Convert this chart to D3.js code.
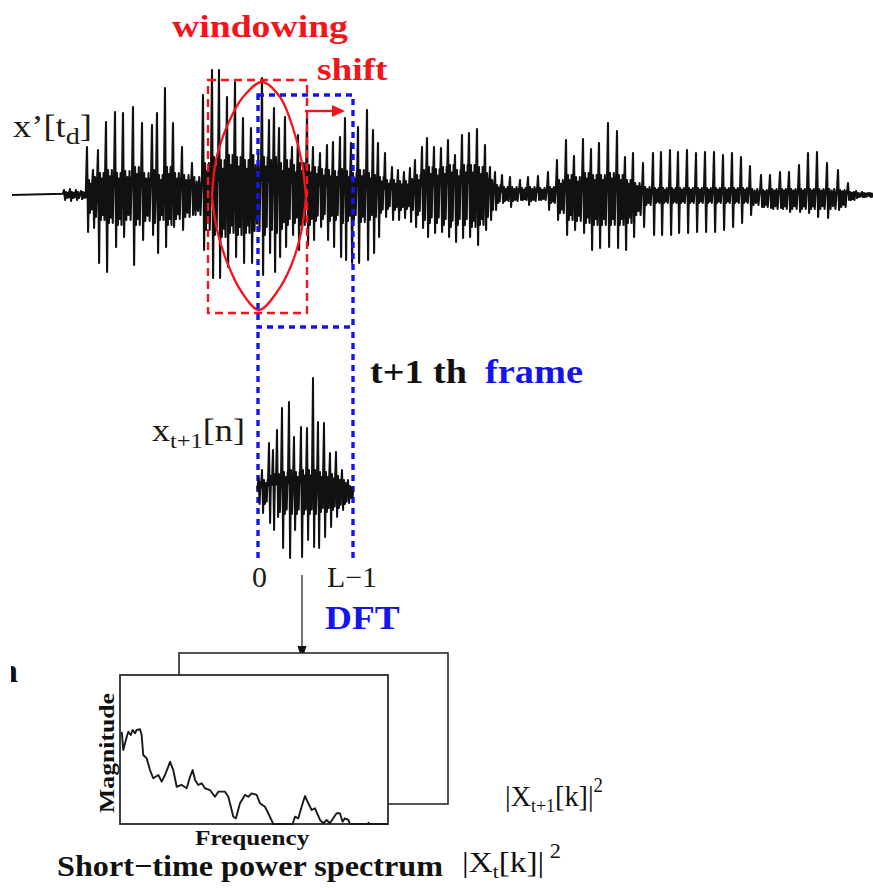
<!DOCTYPE html>
<html><head><meta charset="utf-8">
<script src="https://cdn.jsdelivr.net/npm/d3@7"></script>
<style>html,body{margin:0;padding:0;background:#fff;} svg{display:block;}</style>
</head><body><div id="chart"></div>
<script>
// ---------- DATA ----------
// Main speech waveform x'[t_d]: one entry per pitch period
// (time, main positive peak, main negative trough, secondary peak, secondary trough)
const waveT  = [52,58,64,69,75,81,86,94,103,111,121,130,140,145,153,161,170,180,191,200,207,215,223,231,239,250,257,262,267,273,280,286,295,301,308,315,321,328,333,339,346,355,361,366,373,380,386,392,398,403,410,415,422,429,436,443,450,457,465,473,478,483,490,498,508,516,526,536,545,554,562,571,579,587,596,605,613,621,631,641,649,658,666,675,684,693,702,711,720,729,738,749,758,768,777,787,796,805,815,826,836,844,850,856];
const waveHi = [5,6,5,4,48,25,45,73,83,82,88,72,70,82,107,72,48,32,100,125,125,98,113,77,67,117,75,87,67,78,48,60,78,48,42,50,53,58,77,52,68,85,65,52,42,28,25,23,27,35,48,57,48,47,55,40,60,62,66,50,28,23,20,18,15,18,19,23,35,55,39,56,46,52,72,64,38,42,32,42,43,45,43,45,42,43,43,40,42,38,29,20,20,23,23,30,42,43,32,25,12,4,3,2];
const waveLo = [-5,-6,-5,-4,-37,-33,-68,-77,-52,-42,-70,-45,-40,-58,-52,-32,-35,-20,-55,-83,-83,-72,-62,-68,-68,-80,-58,-77,-62,-52,-40,-55,-50,-45,-32,-45,-52,-62,-65,-68,-68,-65,-58,-42,-22,-25,-25,-23,-27,-32,-33,-42,-38,-37,-42,-47,-43,-42,-50,-35,-25,-15,-8,-12,-5,-10,-5,-15,-25,-40,-35,-38,-55,-53,-52,-53,-55,-42,-32,-40,-40,-40,-38,-38,-37,-37,-37,-35,-32,-28,-20,-12,-13,-13,-17,-17,-18,-22,-23,-15,-5,-3,-2,-1];
const waveHi2 = [3,3,3,3,15,18,22,25,22,24,28,22,25,20,28,22,20,18,32,38,35,40,38,35,40,38,35,38,32,35,30,32,30,28,26,25,24,26,24,22,25,22,20,18,15,15,14,14,16,20,25,28,26,28,30,25,30,30,28,22,15,10,8,8,7,8,7,8,15,20,18,22,20,20,22,20,15,12,8,7,7,7,7,7,7,7,7,7,7,7,6,5,6,6,6,6,6,6,6,5,3,2,2,2];
const waveLo2 = [-3,-3,-3,-3,-18,-22,-25,-28,-30,-25,-30,-26,-28,-25,-30,-24,-22,-20,-35,-40,-42,-38,-40,-38,-36,-40,-35,-38,-34,-30,-28,-30,-30,-26,-24,-26,-25,-28,-26,-25,-27,-25,-22,-18,-14,-15,-15,-14,-15,-20,-25,-28,-28,-30,-32,-30,-30,-32,-30,-22,-15,-8,-6,-6,-5,-6,-5,-8,-18,-25,-26,-28,-30,-30,-30,-30,-28,-20,-10,-8,-8,-8,-8,-8,-8,-8,-8,-8,-8,-8,-10,-12,-14,-14,-14,-14,-14,-14,-14,-12,-5,-2,-2,-2];
// analysis windows (start / end time): t-th frame (red), t+1-th frame (blue)
const winStart = [196, 246];
const winEnd   = [295, 341];
// extracted frame x_{t+1}[n], n = 0 .. L-1
const frameN   = [0.5,4,11,15,19,24,31,36,43,49,55,60,66,72,78,84,90];
const frameHi  = [14,22,49,42,62,84,90,55,65,64,114,70,69,39,40,22,12];
const frameLo  = [-12,-21,-31,-38,-25,-56,-66,-38,-65,-48,-55,-56,-45,-35,-25,-18,-11];
const frameHi2 = [10,12,16,18,18,20,22,20,22,22,22,20,20,18,16,12,6];
const frameLo2 = [-10,-12,-16,-18,-20,-22,-22,-22,-22,-22,-22,-20,-20,-18,-16,-12,-6];
// short-time power spectrum |X_t[k]|^2
const specFreq = [0.7,2.2,5.5,7,9.3,11.2,13.4,15,18.2,19.8,21.3,24.6,27.8,30.9,35.8,39,42.2,45.3,47,50.1,53.4,58.2,63,66.2,68.7,71,74.1,77.4,80.5,85.3,90.1,93.3,99.7,102.9,107.7,110.2,114.1,118.9,122.1,125.3,130.1,133.3,138,141.2,146,164.6,166.8,170,173.2,176.4,179.6,182.8,186,190.8,194,197.1,200.3,203.5,206.7,209.9,212.5,214.7,217.9,219.6,236.9,237.3,237.8,256];
const specMag  = [61.9,49.7,58.6,61.9,59.7,63.1,60.9,63.1,63.6,59.7,46.3,44.1,36.2,30.7,32.9,28.4,32.9,38.5,41.8,36.2,25,26.2,24,31.7,36.2,29.5,26.2,27.3,24,22.8,18.3,21.7,21.7,18.3,4.9,3.8,13.9,19.5,18.3,20.6,19.5,13.9,11.6,7.2,0,0,4.9,3.8,11.6,18.8,13.9,9.4,10.5,2.7,0.5,2.7,0.5,3.8,7.2,7.2,1.5,3.8,2.7,0,0,0.9,0,0];

// ---------- SETUP ----------
const W = 873, H = 890;
const SERIF = "'Liberation Serif','Times New Roman',Times,serif";
const RED = "#f2151b", BLUE = "#1414ee", INK = "#111";
const svg = d3.select('#chart').append('svg').attr('width', W).attr('height', H)
  .style('background', '#fff');

const x = d3.scaleLinear().domain([0, 860]).range([12, 872]);
const y = d3.scaleLinear().domain([-100, 100]).range([295, 95]);

// builds the polyline of a waveform: per period a tall spike followed by
// smaller ringing oscillations whose amplitudes come from the secondary arrays
function wavePoints(T, HI, LO, HI2, LO2, t0, t1) {
  const pts = [[t0, 0]];
  T.forEach((t, i) => {
    const g = (i + 1 < T.length ? T[i + 1] : t + 6) - t;
    const step = Math.max(0.9, (g - 2.4) / 7);
    pts.push([t - 1.1, HI2[i] * 0.4], [t, HI[i]], [t + 1.1, LO[i]]);
    let s = t + 1.1, k = 0;
    while (s + step < t + g - 1.2) {
      s += step;
      pts.push([s, k % 2 === 0 ? HI2[i] * (k % 4 === 0 ? 1 : 0.75) : LO2[i] * (k % 4 === 1 ? 1 : 0.8)]);
      k++;
    }
  });
  pts.push([t1, 0]);
  return pts;
}
svg.append('path').datum(wavePoints(waveT, waveHi, waveLo, waveHi2, waveLo2, 0, 860))
  .attr('d', d3.line().x(d => x(d[0])).y(d => y(d[1])))
  .attr('fill', 'none').attr('stroke', INK).attr('stroke-width', 2.1).attr('stroke-linejoin', 'round');

// ---------- WINDOWS ----------
svg.append('rect')
  .attr('x', x(winStart[0])).attr('y', 80)
  .attr('width', x(winEnd[0]) - x(winStart[0])).attr('height', 233)
  .attr('fill', 'none').attr('stroke', RED).attr('stroke-width', 2.4).attr('stroke-dasharray', '8,5');
// window function (lens)
const upper = [[212,197],[216,160],[228,124],[243,97],[262,82],[280,97],[293,128],[302,163],[306,197]];
const lower = [[306,197],[301,233],[291,266],[277,292],[259,310],[241,291],[227,262],[217,230],[212,197]];
const lensLine = d3.line().curve(d3.curveCatmullRom.alpha(0.5));
svg.append('path').attr('d', lensLine(upper)).attr('fill', 'none').attr('stroke', RED).attr('stroke-width', 2.3);
svg.append('path').attr('d', lensLine(lower)).attr('fill', 'none').attr('stroke', RED).attr('stroke-width', 2.3);

const bx0 = x(winStart[1]), bx1 = x(winEnd[1]);
svg.append('rect')
  .attr('x', bx0).attr('y', 95).attr('width', bx1 - bx0).attr('height', 232)
  .attr('fill', 'none').attr('stroke', BLUE).attr('stroke-width', 3.4).attr('stroke-dasharray', '6,5');
[bx0, bx1].forEach(px => {
  svg.append('line').attr('x1', px).attr('x2', px).attr('y1', 332).attr('y2', 561)
    .attr('stroke', BLUE).attr('stroke-width', 3.4).attr('stroke-dasharray', '6,5');
});

// shift arrow
svg.append('line').attr('x1', 305).attr('x2', 334).attr('y1', 111).attr('y2', 111)
  .attr('stroke', RED).attr('stroke-width', 2.4);
svg.append('path').attr('d', 'M332,105 L345,111 L332,117 Z').attr('fill', RED);

// ---------- FRAME WAVEFORM ----------
const xf = d3.scaleLinear().domain([0, 95]).range([bx0, bx1]);
const yf = d3.scaleLinear().domain([-100, 100]).range([592, 392]);
svg.append('path').datum(wavePoints(frameN, frameHi, frameLo, frameHi2, frameLo2, 0, 95))
  .attr('d', d3.line().x(d => xf(d[0])).y(d => yf(d[1])))
  .attr('fill', 'none').attr('stroke', INK).attr('stroke-width', 2.0).attr('stroke-linejoin', 'round');

// DFT arrow
svg.append('line').attr('x1', 302).attr('x2', 302).attr('y1', 575).attr('y2', 650)
  .attr('stroke', '#3a3a3a').attr('stroke-width', 1.4);
svg.append('path').attr('d', 'M297.5,646 L302,660 L306.5,646 Z').attr('fill', '#111');

// ---------- SPECTRUM BOXES ----------
svg.append('rect').attr('x', 179).attr('y', 653).attr('width', 269).attr('height', 151)
  .attr('fill', '#fff').attr('stroke', '#2a2a2a').attr('stroke-width', 1.6);
svg.append('rect').attr('x', 120).attr('y', 675).attr('width', 268).attr('height', 149)
  .attr('fill', '#fff').attr('stroke', '#2a2a2a').attr('stroke-width', 1.8);
const xs = d3.scaleLinear().domain([0, 256]).range([121, 388]);
const ys = d3.scaleLinear().domain([0, 100]).range([824, 675]);
svg.append('path').datum(specFreq.map((f, i) => [f, specMag[i]]))
  .attr('d', d3.line().x(d => xs(d[0])).y(d => ys(d[1])))
  .attr('fill', 'none').attr('stroke', '#1a1a1a').attr('stroke-width', 1.9).attr('stroke-linejoin', 'round');

// ---------- TEXT ----------
function addText(parts, x0, x1, base, o) {
  const t = svg.append('text').attr('x', x0).attr('y', base)
    .attr('font-family', SERIF).attr('font-weight', o.bold ? 'bold' : 'normal')
    .attr('fill', o.color || INK).attr('font-size', o.size);
  parts.forEach(p => {
    t.append('tspan').text(p.t).attr('font-size', p.size || o.size).attr('dy', p.dy || 0);
  });
  const bb = t.node().getBBox();
  const k = (x1 - x0) / bb.width;
  t.attr('transform', `translate(${x0},0) scale(${k},1) translate(${-bb.x},0)`);
  return t;
}
addText([{t: 'windowing'}], 172, 348, 37, {bold: true, size: 32, color: RED});
addText([{t: 'shift'}], 317, 388, 80, {bold: true, size: 32, color: RED});
addText([{t: 'x’[t'}, {t: 'd', size: 24, dy: 7}, {t: ']', size: 31, dy: -7}], 13, 92, 137, {size: 31, color: '#221a10'});
addText([{t: 't+1 th'}], 370, 467, 383, {bold: true, size: 33});
addText([{t: 'frame'}], 485, 583, 383, {bold: true, size: 33, color: BLUE});
addText([{t: 'x'}, {t: 't+1', size: 21, dy: 7}, {t: '[n]', size: 31, dy: -7}], 152, 245, 441, {size: 31, color: '#221a10'});
addText([{t: '0'}], 252, 267, 587, {size: 29, color: '#221a10'});
addText([{t: 'L−1'}], 327, 377, 587, {size: 29, color: '#221a10'});
addText([{t: 'DFT'}], 325, 400, 629, {bold: true, size: 34, color: BLUE});
addText([{t: 'Frequency'}], 195, 310, 845, {bold: true, size: 21});
addText([{t: 'Short−time power spectrum'}], 57, 443, 876, {bold: true, size: 30});
addText([{t: '|X'}, {t: 't', size: 19, dy: 6}, {t: '[k]|', size: 30, dy: -6}, {t: ' 2', size: 20, dy: -14}], 462, 561, 872, {size: 30});
addText([{t: '|X'}, {t: 't+1', size: 19, dy: 6}, {t: '[k]|', size: 30, dy: -6}, {t: '2', size: 20, dy: -14}], 505, 603, 806, {size: 30});

// rotated "Magnitude"
const mg = svg.append('g').attr('transform', 'translate(114,753) rotate(-90)');
const mt = mg.append('text').attr('x', 0).attr('y', 0).attr('text-anchor', 'middle')
  .attr('font-family', SERIF).attr('font-weight', 'bold').attr('font-size', 21).attr('fill', INK)
  .text('Magnitude');
{ const bb = mt.node().getBBox(); mt.attr('transform', `scale(${120 / bb.width},1)`); }

// cut-off glyph fragment at the left edge
svg.append('clipPath').attr('id', 'edgeclip').append('rect').attr('x', 11).attr('y', 640).attr('width', 20).attr('height', 60);
svg.append('text').attr('x', -1).attr('y', 682).attr('clip-path', 'url(#edgeclip)')
  .attr('font-family', SERIF).attr('font-weight', 'bold').attr('font-size', 34).attr('fill', INK).text('n');
</script>
</body></html>
